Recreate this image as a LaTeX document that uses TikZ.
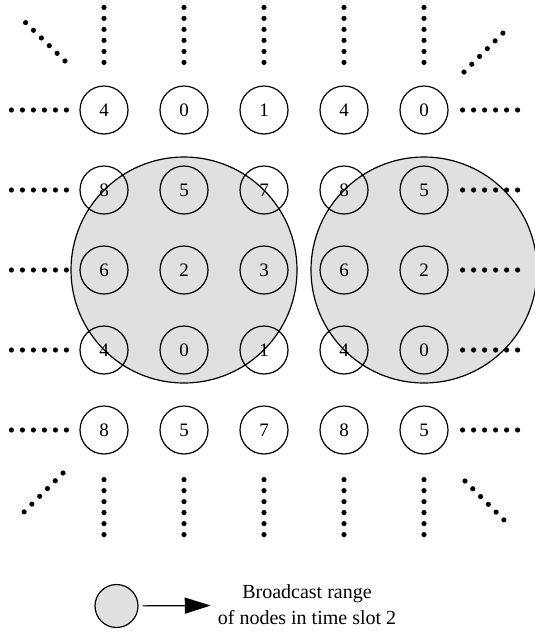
\documentclass[tikz,border=0pt]{standalone}
\usepackage{fontspec}
\setmainfont{Liberation Serif}
\usetikzlibrary{arrows.meta,positioning}

\begin{document}
\begin{tikzpicture}[
    x=0.5pt, y=-0.5pt,
    sensor/.style={circle, draw, line width=0.6pt, minimum size=24pt, inner sep=0pt, font=\fontsize{9.5}{10}\selectfont},
    bcast/.style={circle, draw, line width=0.6pt, fill=black!12, minimum size=113pt, inner sep=0pt},
    dots/.style={line width=2.6pt, line cap=round, dash pattern=on 0pt off 5.5pt},
    edge/.style={-{Triangle[length=13pt,width=8pt]}, line width=0.6pt}
]
    \useasboundingbox (0,0) rectangle (535,632);
    % broadcast ranges in time slot 2
    \node[bcast] (rangeA) at (184,270) {};
    \node[bcast] (rangeB) at (424,270) {};

    % grid of sensor nodes
    \foreach \row/\labels in {1/{4,0,1,4,0}, 2/{8,5,7,8,5}, 3/{6,2,3,6,2}, 4/{4,0,1,4,0}, 5/{8,5,7,8,5}}
        \foreach \lab [count=\col] in \labels
            \node[sensor] (n\row\col) at (24+80*\col, 30+80*\row) {\lab};

    % the grid goes on in every direction
    \foreach \i in {1,...,5} {
        \draw[dots] ([yshift=11.5pt]n1\i.north) -- ++(0,-56);
        \draw[dots] ([yshift=-12.5pt]n5\i.south) -- ++(0,55);
        \draw[dots] ([xshift=-6.5pt]n\i1.west) -- ++(-56,0);
        \draw[dots] ([xshift=7pt]n\i5.east) -- ++(55,0);
    }
    \draw[dots] ([shift={(-39,-49)}]n11.center) -- ++(-40,-39);
    \draw[dots] ([shift={(40,-38)}]n15.center) -- ++(39,-39);
    \draw[dots] ([shift={(-41,43)}]n51.center) -- ++(-39,39);
    \draw[dots] ([shift={(41,51)}]n55.center) -- ++(39,39);

    % legend
    \node[bcast, minimum size=21.5pt] (legend) at (116.5,606) {};
    \node[align=center, font=\fontsize{10}{13}\selectfont] (legendtext) at (307,605) {Broadcast range\\of nodes in time slot 2};
    \draw[edge, shorten <=2pt] (legend) -- (legendtext);
\end{tikzpicture}
\end{document}
